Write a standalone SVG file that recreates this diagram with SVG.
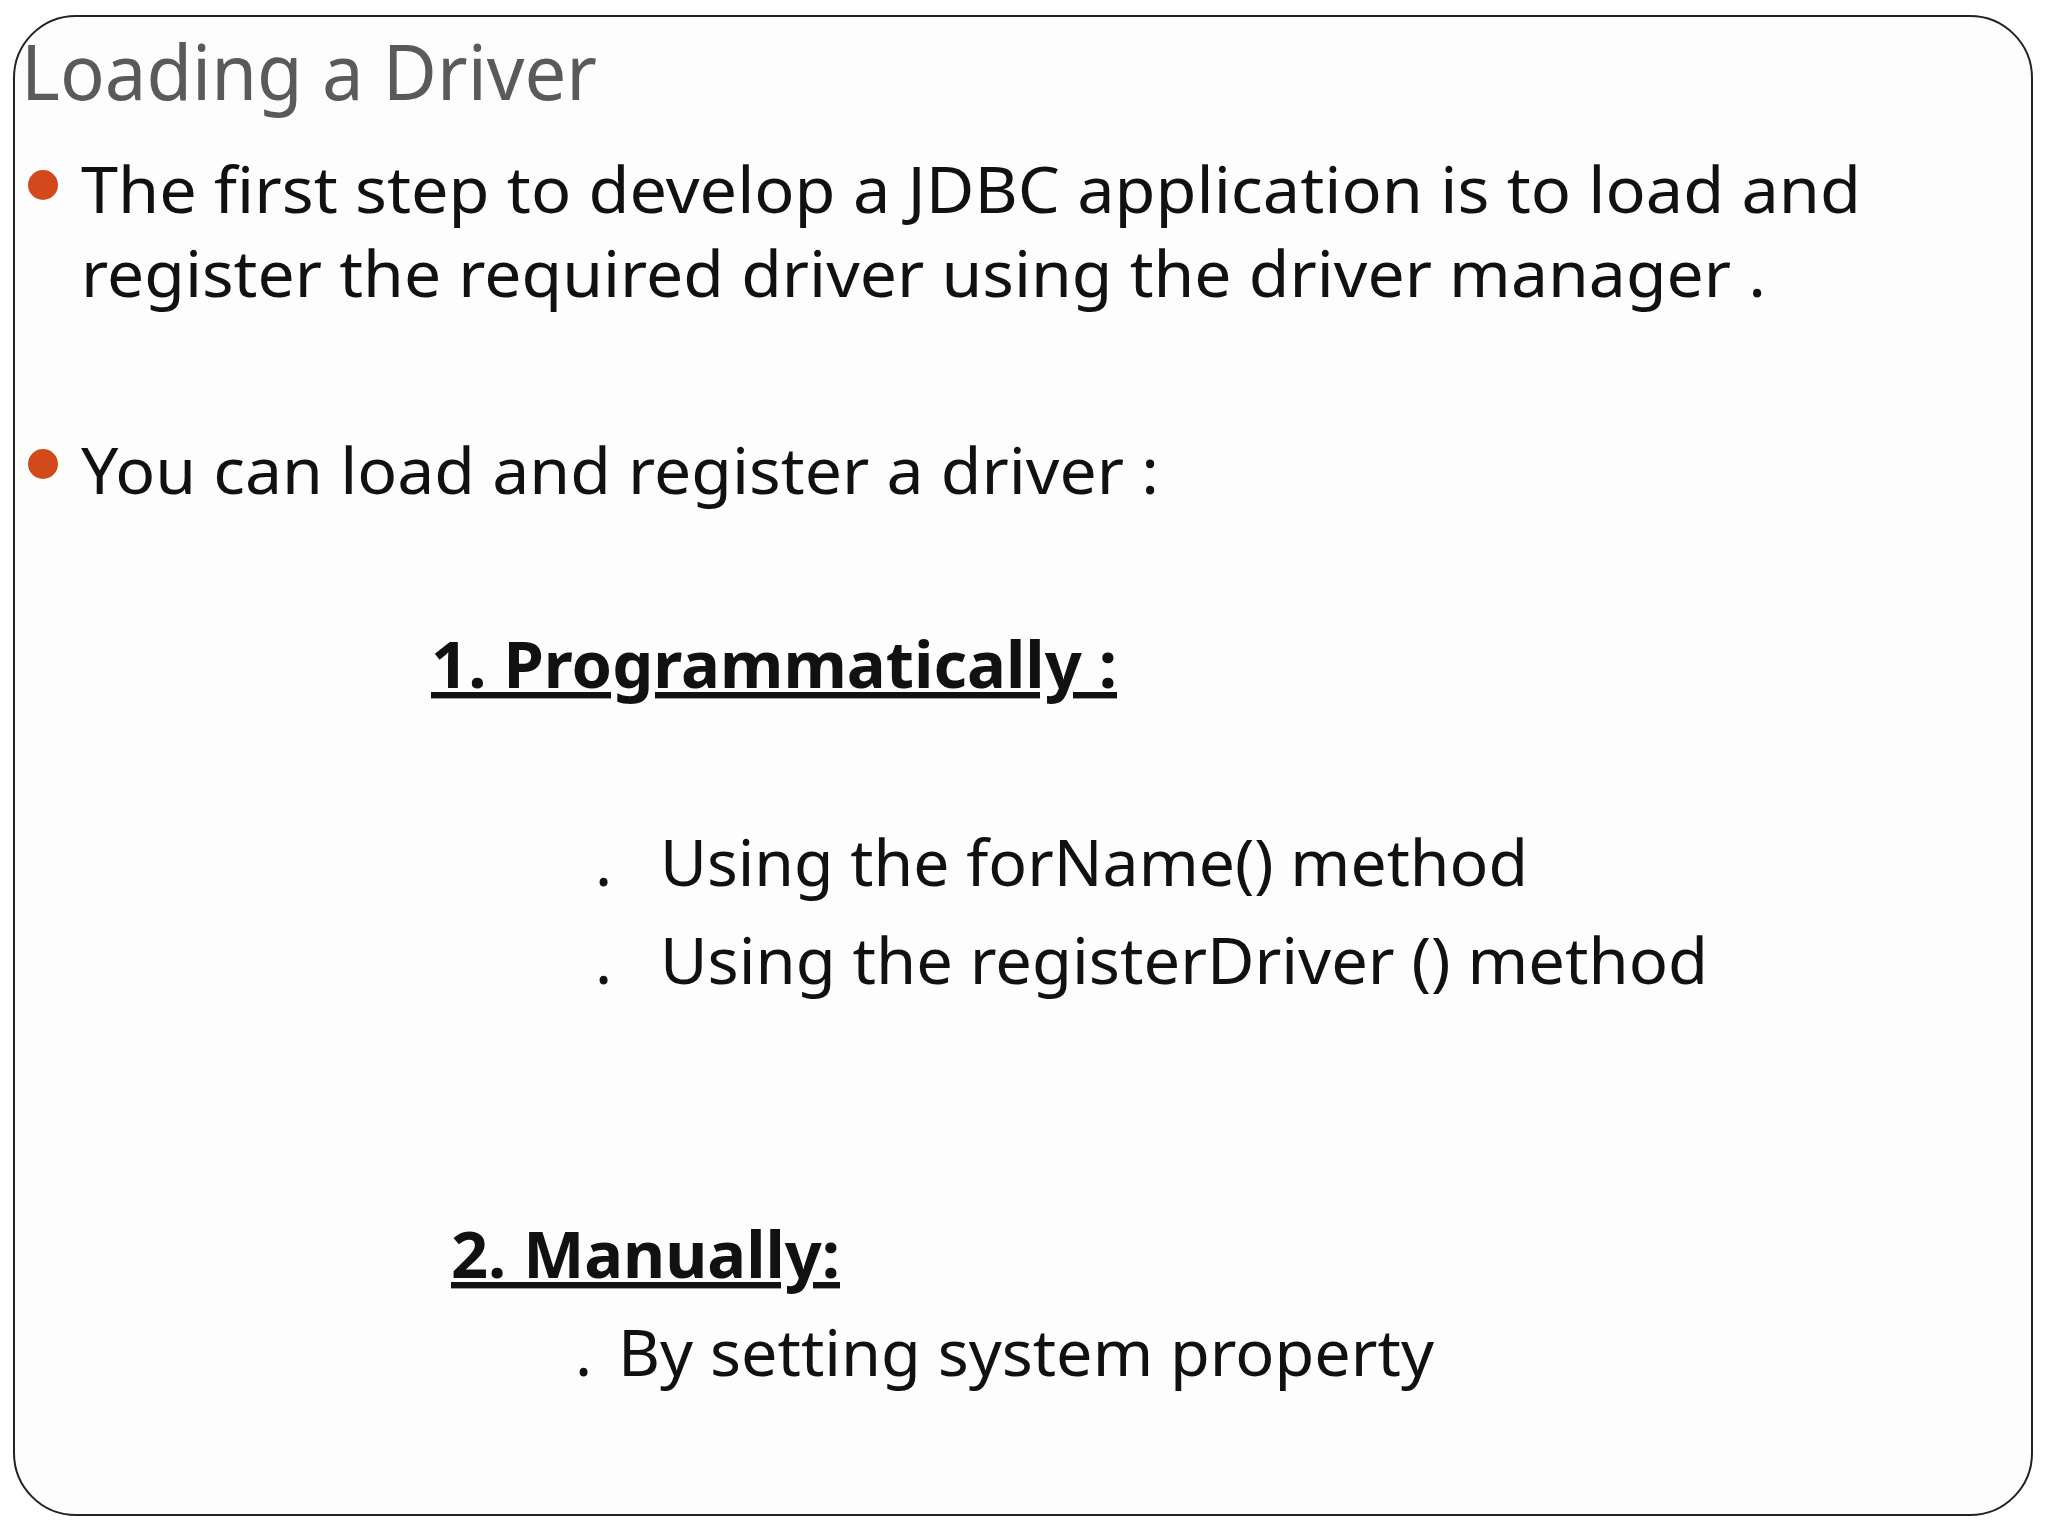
<svg xmlns="http://www.w3.org/2000/svg" width="2048" height="1536" viewBox="0 0 2048 1536">
<style>
.t{font-family:"Noto Sans","Open Sans","DejaVu Sans",sans-serif;font-size:64px;fill:#111}
.h{font-weight:bold;text-decoration:underline}
</style>
<rect width="2048" height="1536" fill="#fff"/>
<rect x="14" y="16" width="2018" height="1499" rx="62" fill="#fdfdfd" stroke="#222" stroke-width="2"/>
<g id="title"><text x="21" y="100" font-family="Noto Sans,Open Sans,sans-serif" font-size="76" fill="#5a5a5a" textLength="576" lengthAdjust="spacingAndGlyphs">Loading a Driver</text></g>
<g id="bullet1"><circle cx="43" cy="185" r="15" fill="#d24a1c"/>
<text class="t" x="81" y="213" textLength="1780" lengthAdjust="spacingAndGlyphs">The first step to develop a JDBC application is to load and</text>
<text class="t" x="81" y="297" textLength="1685" lengthAdjust="spacingAndGlyphs">register the required driver using  the driver manager .</text></g>
<g id="bullet2"><circle cx="43" cy="464" r="15" fill="#d24a1c"/>
<text class="t" x="81" y="494" textLength="1078" lengthAdjust="spacingAndGlyphs">You can load and register a driver :</text></g>
<g id="prog"><text class="t h" x="431" y="688" textLength="686" lengthAdjust="spacingAndGlyphs">1. Programmatically :</text>
<text class="t" x="595" y="886">.</text>
<text class="t" x="660" y="886" textLength="868" lengthAdjust="spacingAndGlyphs">Using the forName() method</text>
<text class="t" x="595" y="984">.</text>
<text class="t" x="660" y="984" textLength="1048" lengthAdjust="spacingAndGlyphs">Using the registerDriver () method</text></g>
<g id="manual"><text class="t h" x="451" y="1278" textLength="389" lengthAdjust="spacingAndGlyphs">2. Manually:</text>
<text class="t" x="575" y="1376">.</text>
<text class="t" x="618" y="1376" textLength="816" lengthAdjust="spacingAndGlyphs">By setting system property</text></g>
</svg>
